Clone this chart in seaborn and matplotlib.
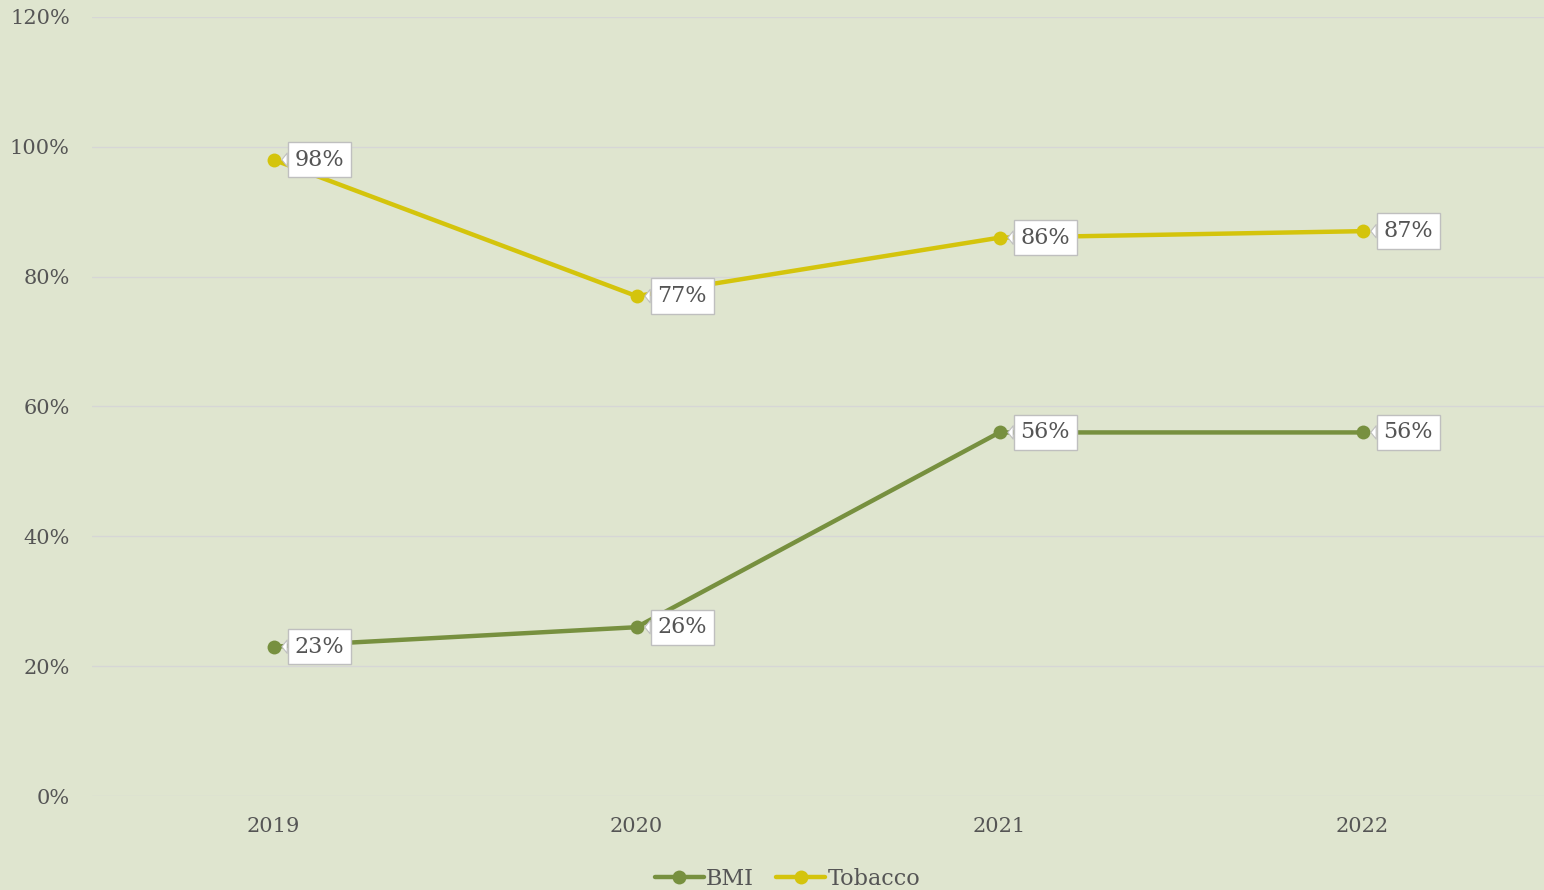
import numpy as np
import pandas as pd
import matplotlib.pyplot as plt
import seaborn as sns
from matplotlib.ticker import PercentFormatter

# data
years = ["2019", "2020", "2021", "2022"]
bmi = [0.23, 0.26, 0.56, 0.56]
tobacco = [0.98, 0.77, 0.86, 0.87]
series_names = ["BMI", "Tobacco"]

BG = "#dfe5cf"
TXT = "#555555"
palette = {"BMI": "#77903f", "Tobacco": "#d4c40c"}

df = pd.DataFrame({
    "year": years * 2,
    "value": bmi + tobacco,
    "series": ["BMI"] * len(years) + ["Tobacco"] * len(years),
})

sns.set_style("white")
plt.rcParams["font.family"] = ["DejaVu Serif"]

fig = plt.figure(figsize=(15.44, 8.90), dpi=100, facecolor=BG)
ax = fig.add_axes([0.0596, 0.1056, 0.9404, 0.8754])
ax.set_facecolor(BG)

sns.lineplot(data=df, x="year", y="value", hue="series", hue_order=series_names,
             palette=palette, marker="o", markersize=10, markeredgewidth=0,
             linewidth=3.2, sort=False, ax=ax, legend=True)

# data labels with small callout boxes
for name, vals in zip(series_names, [bmi, tobacco]):
    for i, v in enumerate(vals):
        ax.annotate(f"{v:.0%}", xy=(i, v), xytext=(15, 0), textcoords="offset points",
                    ha="left", va="center", fontsize=16, color=TXT,
                    bbox=dict(boxstyle="square,pad=0.3", fc="white", ec="#bfbfbf", lw=1),
                    arrowprops=dict(arrowstyle="wedge,tail_width=0.6,shrink_factor=0.5",
                                    fc="white", ec="#bfbfbf", lw=0.8,
                                    shrinkA=0, shrinkB=6))

ax.set_xlim(-0.5, 3.5)
ax.set_ylim(0, 1.2)
ax.set_yticks(np.arange(0, 1.21, 0.2))
ax.yaxis.set_major_formatter(PercentFormatter(1.0, decimals=0))
ax.grid(axis="y", color="#d6d6d6", linewidth=1)
ax.set_axisbelow(True)
for s in ax.spines.values():
    s.set_visible(False)
ax.tick_params(axis="both", length=0, labelsize=15, labelcolor=TXT)
ax.tick_params(axis="x", pad=15)
ax.tick_params(axis="y", pad=16)
ax.set_xlabel("")
ax.set_ylabel("")

handles, labels = ax.get_legend_handles_labels()
ax.get_legend().remove()
fig.legend(handles, labels, loc="lower center", bbox_to_anchor=(0.51, -0.022),
           ncol=2, frameon=False, fontsize=16, labelcolor=TXT,
           handlelength=2.2, handletextpad=0.1, columnspacing=1.0)

fig.savefig("out.png", dpi=100, facecolor=BG)
